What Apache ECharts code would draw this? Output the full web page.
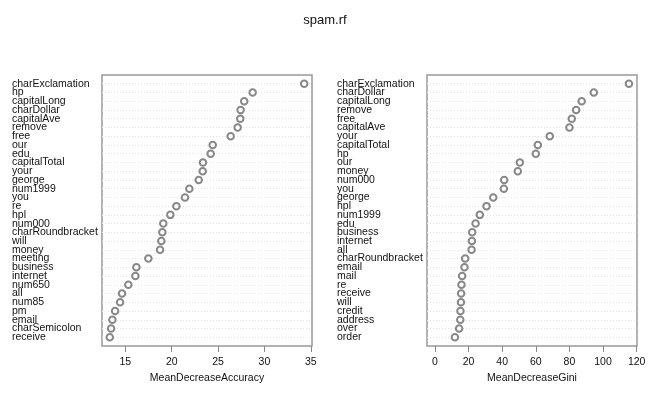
<!DOCTYPE html>
<html>
<head>
<meta charset="utf-8">
<script src="https://cdn.jsdelivr.net/npm/echarts@6/dist/echarts.min.js"></script>
<style>
  html, body { margin: 0; padding: 0; background: #fff; }
  #chart { width: 650px; height: 397px; }
</style>
</head>
<body>
<div id="chart"></div>
<script>
// variables ordered top to bottom, as in the picture
const accNames = ["charExclamation", "hp", "capitalLong", "charDollar", "capitalAve", "remove", "free", "our", "edu", "capitalTotal",
  "your", "george", "num1999", "you", "re", "hpl", "num000", "charRoundbracket", "will", "money",
  "meeting", "business", "internet", "num650", "all", "num85", "pm", "email", "charSemicolon", "receive"];
const accValues = [34.29, 28.73, 27.82, 27.43, 27.39, 27.11, 26.36, 24.42, 24.2, 23.37,
  23.34, 22.91, 21.9, 21.43, 20.5, 19.85, 19.09, 18.99, 18.88, 18.74,
  17.48, 16.19, 16.08, 15.32, 14.64, 14.43, 13.89, 13.6, 13.46, 13.32];

const giniNames = ["charExclamation", "charDollar", "capitalLong", "remove", "free", "capitalAve", "your", "capitalTotal", "hp", "our",
  "money", "num000", "you", "george", "hpl", "num1999", "edu", "business", "internet", "all",
  "charRoundbracket", "email", "mail", "re", "receive", "will", "credit", "address", "over", "order"];
const giniValues = [115.4, 94.5, 87.3, 84.0, 81.4, 80.0, 68.3, 61.2, 60.0, 50.5,
  49.3, 41.2, 41.0, 34.7, 30.7, 26.7, 24.2, 22.2, 22.0, 21.8,
  18.0, 17.6, 16.2, 15.8, 15.6, 15.5, 15.2, 15.1, 14.4, 11.9];

const accTicks = [15, 20, 25, 30, 35];
const giniTicks = [0, 20, 40, 60, 80, 100, 120];

const font = "Liberation Sans, Arial, sans-serif";
const fontSize = 10.5;
const n = accNames.length;

// dotchart: row 1 at bottom, first variable on top
function toPoints(values) {
  return values.map((v, i) => [v, n - i]);
}

function yAxisFor(gridIndex, names, margin) {
  return {
    type: "value",
    gridIndex: gridIndex,
    min: 0,
    max: n + 1,
    interval: 1,
    axisLine: { show: false },
    axisTick: { show: false },
    axisLabel: {
      align: "left",
      margin: margin,
      fontFamily: font,
      fontSize: fontSize,
      color: "#111",
      formatter: (v) => (v >= 1 && v <= n ? names[n - v] : ""),
    },
    splitLine: {
      show: true,
      showMinLine: false,
      showMaxLine: false,
      lineStyle: { color: "#e4e4e4", type: [1, 2], width: 1 },
    },
  };
}

function xAxisFor(gridIndex, min, max, ticks, title) {
  return {
    type: "value",
    gridIndex: gridIndex,
    min: min,
    max: max,
    axisLine: { show: false },
    splitLine: { show: false },
    axisTick: {
      show: true,
      customValues: ticks,
      length: 6,
      lineStyle: { color: "#888" },
    },
    axisLabel: {
      customValues: ticks,
      margin: 11,
      fontFamily: font,
      fontSize: fontSize,
      color: "#111",
    },
    name: title,
    nameLocation: "middle",
    nameGap: 27,
    nameTextStyle: { fontFamily: font, fontSize: fontSize, color: "#111" },
  };
}

const chart = echarts.init(document.getElementById("chart"));
chart.setOption({
  animation: false,
  title: {
    text: "spam.rf",
    left: "center",
    top: 9,
    textStyle: { fontFamily: font, fontSize: 13, fontWeight: "normal", color: "#111" },
  },
  grid: [
    { left: 102, top: 75, width: 210, height: 271, show: true, borderColor: "#999", borderWidth: 1.5 },
    { left: 427, top: 75, width: 210, height: 271, show: true, borderColor: "#999", borderWidth: 1.5 },
  ],
  xAxis: [
    xAxisFor(0, 12.48, 35.13, accTicks, "MeanDecreaseAccuracy"),
    xAxisFor(1, -4.7, 120.2, giniTicks, "MeanDecreaseGini"),
  ],
  yAxis: [yAxisFor(0, accNames, 90), yAxisFor(1, giniNames, 90)],
  series: [
    {
      type: "scatter",
      xAxisIndex: 0,
      yAxisIndex: 0,
      data: toPoints(accValues),
      symbol: "emptyCircle",
      symbolSize: 6.5,
      itemStyle: { color: "#6a6a6a", borderWidth: 0.6 },
    },
    {
      type: "scatter",
      xAxisIndex: 1,
      yAxisIndex: 1,
      data: toPoints(giniValues),
      symbol: "emptyCircle",
      symbolSize: 6.5,
      itemStyle: { color: "#6a6a6a", borderWidth: 0.6 },
    },
  ],
});
</script>
</body>
</html>
